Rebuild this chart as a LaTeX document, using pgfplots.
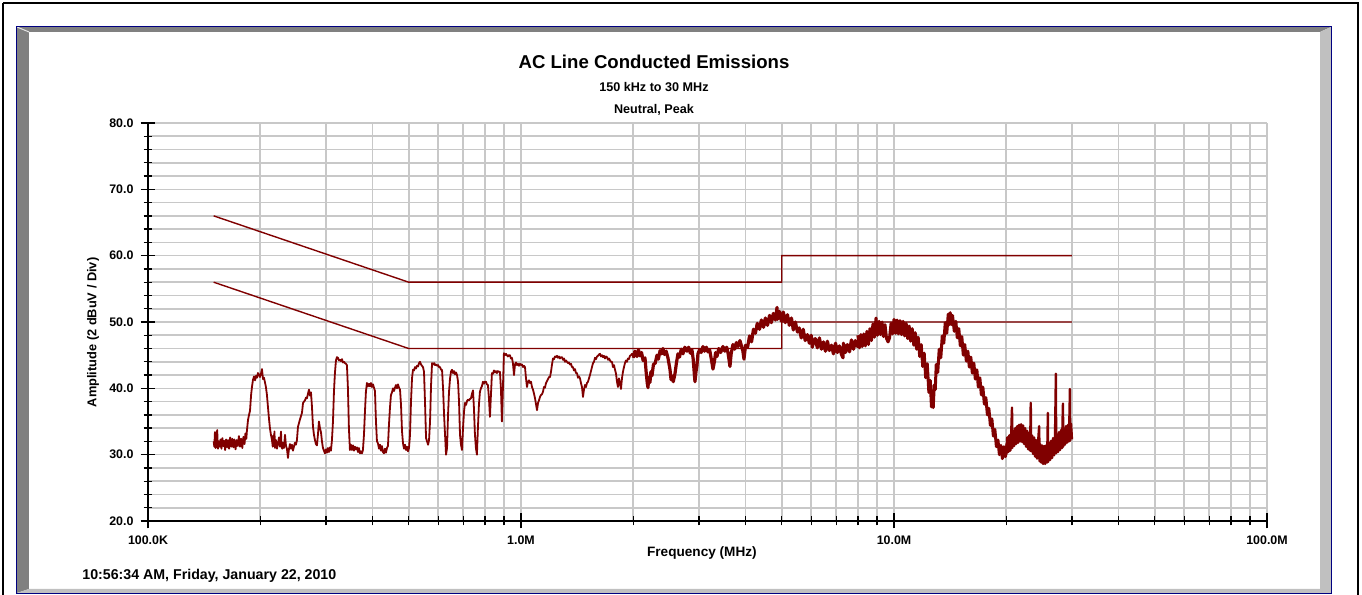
\documentclass[border=0pt]{standalone}
\usepackage{pgfplots}
\usepackage{pgfplotstable}
\pgfplotsset{compat=1.18}
\usepackage{fontspec}
\setmainfont{Liberation Sans}

\definecolor{trace}{RGB}{128,0,0}
\definecolor{gridgray}{RGB}{200,200,200}
\definecolor{navyb}{RGB}{0,0,128}
\definecolor{darkbevel}{RGB}{128,128,128}
\definecolor{lightbevel}{RGB}{192,192,192}

% frequency in MHz, amplitude in dBuV
\pgfplotstableread{
f v
0.1500 32.0
0.1506 31.2
0.1512 33.4
0.1518 31.0
0.1525 32.4
0.1533 33.7
0.1540 30.9
0.1548 32.0
0.1556 31.2
0.1565 32.3
0.1574 30.9
0.1583 32.5
0.1592 31.3
0.1601 32.1
0.1610 30.7
0.1620 32.3
0.1630 31.1
0.1640 32.2
0.1650 30.9
0.1661 32.6
0.1672 31.2
0.1683 32.4
0.1694 31.1
0.1705 32.3
0.1717 30.8
0.1729 32.2
0.1741 31.3
0.1753 32.8
0.1765 31.2
0.1777 32.4
0.1790 31.0
0.1803 32.7
0.1815 31.6
0.1825 33.2
0.1835 32.4
0.1842 33.6
0.1854 35.2
0.1866 36.0
0.1877 36.6
0.1890 39.0
0.1900 40.2
0.1912 41.3
0.1925 41.8
0.1937 41.2
0.1949 41.9
0.1960 41.6
0.1972 42.3
0.1984 42.1
0.1996 41.7
0.2009 42.2
0.2021 42.9
0.2034 41.4
0.2046 41.6
0.2059 40.9
0.2071 40.2
0.2084 39.0
0.2097 37.2
0.2110 35.5
0.2123 34.0
0.2136 33.0
0.2150 32.2
0.2160 31.2
0.2168 32.9
0.2176 31.3
0.2183 33.5
0.2190 31.0
0.2203 32.2
0.2217 30.9
0.2231 31.7
0.2245 32.6
0.2259 31.2
0.2273 33.5
0.2280 31.4
0.2290 30.9
0.2301 31.8
0.2315 31.0
0.2330 33.0
0.2344 31.3
0.2358 30.9
0.2373 29.5
0.2387 30.8
0.2402 31.6
0.2417 30.9
0.2432 31.5
0.2447 30.6
0.2462 31.2
0.2477 31.8
0.2493 31.5
0.2508 32.2
0.2524 34.2
0.2555 35.3
0.2587 36.3
0.2604 37.8
0.2636 38.2
0.2652 38.6
0.2668 38.5
0.2685 39.2
0.2701 39.8
0.2718 38.9
0.2735 39.4
0.2752 37.2
0.2769 34.2
0.2786 33.0
0.2803 32.2
0.2820 31.6
0.2838 31.4
0.2855 33.0
0.2873 35.0
0.2891 34.0
0.2909 33.4
0.2927 32.0
0.2945 31.0
0.2963 30.6
0.2981 30.2
0.3000 30.8
0.3018 30.3
0.3037 31.0
0.3056 30.4
0.3075 31.1
0.3094 30.6
0.3113 32.2
0.3133 35.0
0.3152 39.5
0.3171 42.3
0.3191 44.2
0.3211 44.7
0.3231 44.6
0.3251 44.2
0.3271 44.3
0.3292 44.1
0.3312 44.4
0.3333 43.9
0.3353 44.0
0.3374 43.8
0.3395 43.7
0.3415 43.5
0.3436 40.0
0.3457 34.0
0.3479 30.7
0.3501 31.5
0.3523 30.7
0.3545 31.4
0.3567 30.6
0.3589 31.2
0.3611 30.8
0.3633 31.1
0.3656 30.4
0.3678 31.0
0.3701 30.2
0.3724 30.5
0.3747 30.2
0.3770 30.7
0.3794 33.0
0.3817 36.5
0.3840 39.5
0.3864 40.8
0.3888 40.3
0.3912 40.7
0.3936 40.3
0.3961 40.8
0.3985 40.2
0.4010 40.6
0.4035 40.1
0.4060 39.6
0.4085 35.0
0.4110 32.0
0.4136 31.7
0.4162 30.9
0.4188 31.5
0.4213 30.6
0.4239 31.3
0.4265 30.4
0.4292 30.2
0.4318 30.9
0.4345 30.3
0.4372 31.0
0.4399 31.3
0.4426 34.5
0.4453 37.0
0.4481 39.0
0.4510 39.4
0.4538 40.0
0.4566 39.6
0.4594 40.1
0.4622 40.5
0.4651 40.0
0.4680 40.6
0.4709 40.1
0.4739 39.8
0.4768 37.5
0.4798 33.5
0.4827 31.7
0.4857 30.9
0.4887 31.5
0.4918 30.7
0.4948 31.2
0.4978 30.5
0.5009 31.0
0.5040 33.0
0.5071 38.0
0.5103 41.5
0.5134 42.8
0.5165 42.7
0.5198 43.2
0.5231 43.0
0.5263 43.4
0.5296 43.3
0.5329 43.8
0.5361 44.0
0.5394 43.6
0.5428 43.4
0.5461 43.2
0.5495 42.5
0.5529 38.0
0.5565 32.5
0.5600 32.0
0.5634 31.5
0.5669 32.2
0.5704 35.0
0.5740 40.5
0.5775 43.8
0.5811 43.6
0.5847 43.8
0.5883 43.5
0.5919 43.6
0.5956 43.4
0.5993 43.5
0.6030 43.2
0.6067 43.2
0.6104 42.8
0.6142 42.8
0.6181 40.0
0.6220 36.0
0.6257 33.0
0.6296 30.0
0.6335 31.0
0.6374 36.0
0.6413 39.5
0.6453 41.5
0.6492 42.5
0.6532 42.8
0.6573 42.3
0.6614 42.6
0.6655 42.1
0.6696 42.4
0.6738 42.0
0.6780 41.0
0.6821 38.0
0.6863 33.0
0.6905 31.5
0.6948 30.7
0.6992 34.0
0.7035 36.5
0.7078 37.8
0.7123 37.5
0.7167 38.1
0.7211 38.3
0.7256 38.2
0.7300 38.4
0.7345 38.5
0.7391 39.2
0.7437 39.7
0.7480 37.0
0.7526 33.0
0.7572 31.0
0.7619 30.0
0.7666 34.0
0.7714 37.5
0.7762 39.5
0.7810 40.0
0.7858 40.3
0.7907 41.0
0.7956 40.7
0.8005 41.0
0.8054 41.0
0.8104 40.6
0.8154 40.5
0.8205 38.5
0.8256 35.7
0.8307 39.0
0.8358 42.3
0.8410 42.2
0.8462 42.7
0.8515 42.4
0.8567 42.6
0.8620 42.3
0.8674 42.6
0.8727 42.5
0.8780 42.5
0.8835 40.0
0.8889 35.0
0.8944 40.0
0.9000 45.3
0.9056 45.0
0.9112 45.2
0.9168 45.0
0.9225 44.8
0.9282 45.0
0.9339 45.0
0.9397 44.5
0.9455 44.6
0.9514 43.8
0.9577 42.0
0.9636 43.6
0.9696 43.9
0.9756 43.5
0.9817 43.7
0.9877 43.4
0.9938 43.7
1.0000 43.5
1.0062 43.6
1.0124 43.2
1.0187 43.4
1.0250 43.2
1.0314 41.5
1.0377 40.2
1.0442 41.0
1.0506 41.2
1.0571 40.8
1.0636 41.0
1.0703 40.2
1.0770 39.8
1.0837 39.2
1.0904 38.5
1.0972 37.6
1.1040 36.7
1.1108 37.8
1.1176 38.2
1.1245 38.7
1.1315 39.0
1.1385 39.1
1.1455 39.5
1.1526 40.2
1.1597 40.1
1.1669 40.8
1.1742 41.1
1.1814 41.4
1.1887 41.7
1.1961 41.7
1.2035 42.5
1.2110 43.6
1.2184 44.5
1.2260 44.4
1.2336 44.8
1.2412 44.7
1.2488 44.9
1.2566 44.6
1.2644 44.8
1.2722 44.5
1.2801 44.7
1.2879 44.7
1.2959 44.3
1.3040 44.5
1.3121 44.0
1.3202 44.2
1.3282 44.0
1.3364 43.8
1.3447 43.9
1.3530 43.6
1.3614 43.7
1.3698 43.2
1.3783 43.2
1.3869 42.7
1.3955 42.9
1.4041 42.3
1.4128 42.3
1.4216 41.6
1.4304 41.8
1.4393 41.5
1.4482 40.8
1.4571 40.2
1.4661 38.7
1.4752 39.8
1.4844 40.5
1.4936 40.2
1.5028 40.8
1.5121 41.0
1.5215 41.5
1.5309 42.0
1.5403 42.6
1.5499 43.2
1.5596 43.8
1.5692 44.0
1.5790 44.6
1.5888 44.4
1.5985 44.8
1.6085 44.9
1.6184 45.1
1.6283 45.2
1.6384 44.8
1.6485 45.0
1.6588 44.7
1.6691 44.9
1.6794 44.5
1.6898 44.8
1.7004 44.7
1.7109 44.3
1.7215 44.5
1.7322 44.2
1.7429 44.0
1.7536 44.0
1.7645 43.2
1.7756 43.5
1.7869 42.8
1.7978 42.2
1.8087 41.0
1.8198 40.2
1.8311 41.5
1.8425 40.8
1.8540 39.9
1.8653 41.5
1.8768 42.5
1.8884 43.2
1.9001 43.8
1.9118 44.2
1.9237 44.0
1.9356 44.5
1.9475 44.4
1.9596 44.9
1.9717 45.0
1.9840 45.2
1.9963 45.0
2.0100 45.4
2.0300 45.0
2.0500 45.3
}\traceA

\pgfplotstableread{
f v
2.000 44.6
2.020 45.6
2.046 44.8
2.065 45.8
2.084 44.9
2.105 45.4
2.125 44.2
2.150 44.6
2.165 42.5
2.180 40.8
2.190 40.1
2.200 41.6
2.217 40.9
2.230 42.5
2.245 41.9
2.265 43.6
2.290 43.8
2.315 45.0
2.335 44.4
2.360 45.7
2.382 45.2
2.402 46.0
2.425 45.1
2.450 45.6
2.477 44.6
2.495 43.6
2.509 42.8
2.525 41.3
2.539 41.9
2.560 41.0
2.587 42.2
2.610 43.8
2.635 45.2
2.660 44.7
2.690 45.9
2.718 45.2
2.750 46.2
2.786 45.6
2.815 46.2
2.845 45.3
2.873 45.8
2.895 44.4
2.915 42.2
2.927 41.0
2.945 42.5
2.963 43.4
2.981 45.2
3.010 45.8
3.040 45.4
3.075 46.3
3.105 45.6
3.140 46.2
3.171 45.5
3.205 45.8
3.240 44.3
3.271 42.9
3.300 44.0
3.325 45.4
3.353 44.8
3.390 46.0
3.430 45.4
3.479 46.3
3.520 45.6
3.560 46.2
3.588 45.4
3.610 44.4
3.633 43.3
3.660 45.2
3.700 46.6
3.740 45.9
3.780 46.9
3.820 46.3
3.864 47.2
3.900 46.4
3.935 45.6
3.961 44.4
3.990 45.9
4.00 46.5
4.05 46.2
4.10 47.9
4.15 47.0
4.20 48.9
4.25 48.3
4.30 49.8
4.36 48.9
4.41 50.3
4.47 49.2
4.52 50.6
4.58 49.5
4.64 51.0
4.69 49.9
4.75 51.3
4.81 50.3
4.857 52.2
4.87 50.4
4.93 51.6
4.99 50.1
5.05 51.5
5.11 49.9
5.18 51.1
5.24 49.5
5.31 50.6
5.37 48.8
5.44 50.0
5.51 48.5
5.57 49.1
5.64 47.6
5.71 48.9
5.78 47.2
5.86 48.1
5.93 46.8
6.00 48.0
6.04 46.2
6.08 47.0
6.15 47.5
6.23 46.1
6.31 47.6
6.39 45.9
6.47 47.0
6.55 45.6
6.63 47.1
6.71 45.7
6.80 46.5
6.88 45.2
6.97 46.8
7.05 45.4
7.14 46.4
7.23 45.1
7.30 44.6
7.32 46.8
7.41 45.4
7.50 46.6
7.60 45.5
7.69 47.3
7.79 45.9
7.88 47.2
7.98 46.3
8.08 47.9
}\traceB

\pgfplotstableread{
f v
8.00 48.0
8.08 46.1
8.15 48.1
8.22 46.3
8.30 48.2
8.38 46.4
8.46 48.6
8.54 46.6
8.62 49.0
8.70 47.2
8.78 49.7
8.86 47.7
8.95 50.6
9.03 48.0
9.12 50.1
9.20 48.1
9.29 50.0
9.37 47.8
9.46 49.6
9.55 47.5
9.64 47.0
9.73 47.6
9.82 49.8
9.91 48.2
10.00 50.4
10.09 48.3
10.19 50.3
10.28 48.2
10.38 50.2
10.48 48.1
10.58 50.1
10.68 47.9
10.78 49.8
10.88 47.5
10.98 49.4
11.08 47.1
11.19 49.0
11.30 46.5
11.40 48.4
11.50 45.9
11.61 47.7
11.72 44.8
11.83 46.6
11.94 43.3
12.05 45.3
12.16 41.6
12.28 43.7
12.40 39.4
12.51 41.2
12.60 37.2
12.68 39.6
12.74 37.1
12.82 40.5
12.90 39.8
12.98 43.6
13.10 42.4
13.22 45.9
13.35 44.6
13.47 47.9
13.60 46.8
13.72 49.9
13.85 48.3
13.98 51.2
14.06 49.6
14.15 51.4
14.24 49.6
14.35 51.0
14.51 48.6
14.65 50.1
14.78 47.6
14.92 49.0
15.06 46.4
15.20 47.8
15.34 45.0
15.48 46.6
15.63 44.1
15.78 45.6
15.92 43.2
16.07 44.7
16.22 42.3
16.37 43.8
16.52 41.4
16.68 42.8
16.83 40.2
16.99 41.6
17.15 39.0
17.31 40.2
17.47 37.6
17.63 38.6
17.80 36.0
17.96 37.0
18.13 34.4
18.30 35.4
18.47 32.8
18.64 33.8
18.82 31.2
19.00 32.2
19.17 30.0
19.35 31.4
19.53 29.4
19.71 31.2
19.90 29.7
20.08 31.6
20.27 30.4
}\traceC

\pgfplotstableread{
f v
20.00 30.0
20.12 32.6
20.25 30.4
20.37 32.9
20.50 30.6
20.62 33.3
20.72 37.1
20.75 31.0
20.87 33.6
21.00 31.3
21.13 34.0
21.26 31.6
21.39 34.3
21.52 31.8
21.65 34.5
21.79 32.0
21.92 34.6
22.06 31.9
22.20 34.4
22.33 31.6
22.47 34.0
22.61 31.2
22.75 33.6
22.89 30.8
23.03 33.3
23.17 30.6
23.26 37.8
23.32 30.5
23.46 32.9
23.60 30.1
23.75 32.6
23.90 29.7
24.04 32.2
24.19 29.4
24.34 31.9
24.50 34.3
24.56 29.0
24.64 31.6
24.80 28.8
24.95 31.4
25.10 28.6
25.26 31.3
25.42 28.6
25.57 31.4
25.73 28.8
25.86 36.3
25.89 28.9
26.05 31.8
26.21 29.2
26.37 32.1
26.53 29.5
26.70 32.5
26.86 29.9
27.02 32.8
27.17 42.2
27.21 30.2
27.36 33.1
27.53 30.4
27.70 33.4
27.87 30.7
28.04 33.7
28.21 31.0
28.38 37.7
28.42 31.2
28.56 34.0
28.74 31.5
28.92 34.3
29.10 31.8
29.27 34.5
29.45 32.0
29.63 39.9
29.66 32.1
29.82 34.7
30.00 32.3
}\traceD

\begin{document}
\begin{tikzpicture}
% frame, in pixel units of the 1362x595 page
\begin{scope}[shift={(-74pt,260.5pt)}, x=0.5pt, y=-0.5pt]
  \useasboundingbox (0,0) rectangle (1362,595);
  \fill[white] (0,0) rectangle (1362,595);
  \draw[black, line width=1.2pt] (3,3) -- (1358,3) -- (1358,600);
  \draw[black, line width=1.2pt] (3,3) -- (3,600);
  \fill[darkbevel] (17,27) -- (1331,27) -- (1320,32) -- (29,32) -- (29,589) -- (17,593) -- cycle;
  \fill[lightbevel] (1331,27) -- (1331,593) -- (17,593) -- (29,589) -- (1320,589) -- (1320,32) -- cycle;
  \draw[white!80!gray, line width=0.5pt] (17,27) -- (29,32);
  \draw[navyb, line width=0.8pt] (16.5,26.5) rectangle (1331.5,593.5);
  \node[inner sep=0, font=\bfseries\fontsize{9.3}{11}\selectfont] at (654,62) {AC Line Conducted Emissions};
  \node[inner sep=0, font=\bfseries\fontsize{6.3}{8}\selectfont] at (654,87) {150 kHz to 30 MHz};
  \node[inner sep=0, font=\bfseries\fontsize{6.3}{8}\selectfont] at (654,110) {Neutral, Peak};
  \node[inner sep=0, anchor=west, font=\bfseries\fontsize{7.1}{9}\selectfont] at (82,576) {10:56:34 AM, Friday, January 22, 2010};
\end{scope}

\begin{axis}[
    at={(0,0)}, anchor=south west,
    scale only axis, width=559.5pt, height=199pt,
    xmode=log, xmin=0.1, xmax=100, ymin=20, ymax=80,
    axis x line=bottom, axis y line=left,
    axis line style={-, black, line width=0.7pt},
    xtick={0.1,1,10,100},
    xticklabels={100.0K,1.0M,10.0M,100.0M},
    minor xtick={0.2,0.3,0.4,0.5,0.6,0.7,0.8,0.9,2,3,4,5,6,7,8,9,20,30,40,50,60,70,80,90},
    ytick={20,30,40,50,60,70,80},
    yticklabels={20.0,30.0,40.0,50.0,60.0,70.0,80.0},
    minor ytick={22,24,26,28,32,34,36,38,42,44,46,48,52,54,56,58,62,64,66,68,72,74,76,78},
    grid=both,
    major grid style={gridgray, line width=0.8pt},
    minor grid style={gridgray, line width=0.8pt},
    tick align=center,
    major tick length=7.5pt, minor tick length=4.5pt,
    tick style={black, line width=0.65pt},
    ticklabel style={font=\bfseries\fontsize{6.2}{7}\selectfont},
    xlabel={Frequency (MHz)},
    ylabel={Amplitude (2 dBuV / Div)},
    xlabel style={at={(axis description cs:0.495,-0.0804)}, anchor=center, font=\bfseries\fontsize{6.8}{8}\selectfont},
    ylabel style={at={(axis description cs:-0.0492,0.474)}, anchor=center, rotate=0, font=\bfseries\fontsize{6.4}{8}\selectfont},
    clip=true,
]
\addplot[trace, line width=0.7pt] coordinates {(0.15,66) (0.5,56) (5,56) (5,60) (30,60)};
\addplot[trace, line width=0.7pt] coordinates {(0.15,56) (0.5,46) (5,46) (5,50) (30,50)};
\addplot[trace, line width=0.9pt, line join=round] table[x=f, y=v] {\traceA};
\addplot[trace, line width=1.6pt, line join=round] table[x=f, y=v] {\traceB};
\addplot[trace, line width=1.5pt, line join=round] table[x=f, y=v] {\traceC};
\addplot[trace, line width=1.2pt, line join=round] table[x=f, y=v] {\traceD};
\end{axis}
\end{tikzpicture}
\end{document}
